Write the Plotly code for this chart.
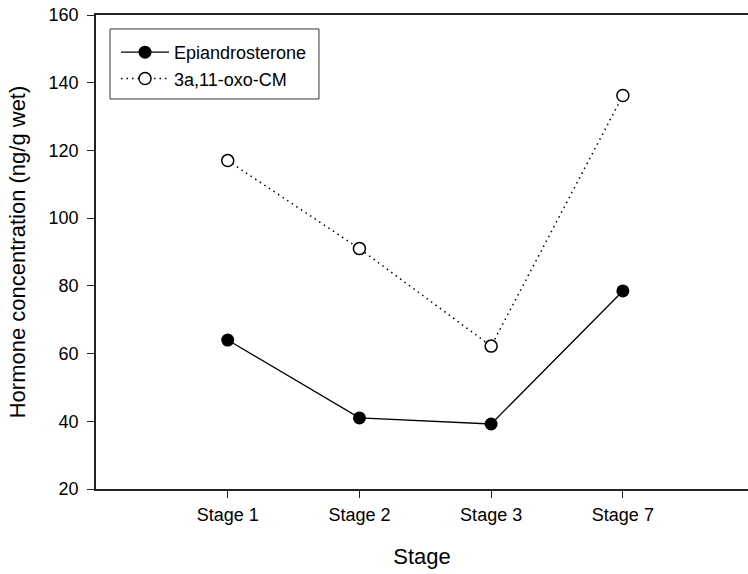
import plotly.graph_objects as go

stages = ["Stage 1", "Stage 2", "Stage 3", "Stage 7"]
stage_pos = [1, 2, 3, 4]
epiandrosterone = [64.0, 41.0, 39.2, 78.5]
oxo_cm = [117.0, 91.0, 62.2, 136.2]
y_ticks = [20, 40, 60, 80, 100, 120, 140, 160]

FONT = "Arial, 'Liberation Sans', sans-serif"

fig = go.Figure()
fig.add_trace(go.Scatter(
    x=stage_pos, y=epiandrosterone, name="Epiandrosterone", mode="lines+markers",
    line=dict(color="black", width=1.3),
    marker=dict(symbol="circle", size=13, color="black", line=dict(color="black", width=0)),
))
fig.add_trace(go.Scatter(
    x=stage_pos, y=oxo_cm, name="3a,11-oxo-CM", mode="lines+markers",
    line=dict(color="black", width=1.5, dash="1.5px,4px"),
    marker=dict(symbol="circle", size=12, color="white", line=dict(color="black", width=1.5)),
))

# legend frame (decoration)
fig.add_shape(type="rect", xref="paper", yref="paper",
              x0=0.0215, x1=0.342, y0=0.8228, y1=0.9705,
              line=dict(color="#333", width=1), fillcolor="rgba(0,0,0,0)", layer="above")

fig.update_layout(
    width=748, height=574,
    margin=dict(l=96, r=0, t=15, b=85, autoexpand=False),
    paper_bgcolor="white", plot_bgcolor="white",
    font=dict(family=FONT, size=18, color="black"),
    showlegend=True,
    legend=dict(
        x=0.0307, y=0.96, xanchor="left", yanchor="top",
        bgcolor="rgba(0,0,0,0)", borderwidth=0,
        font=dict(family=FONT, size=18, color="black"),
        tracegroupgap=0, itemwidth=48,
    ),
)
fig.update_xaxes(
    range=[0, 4.95], tickvals=stage_pos, ticktext=stages, automargin=False,
    showline=True, linecolor="#222", linewidth=1.5, mirror=True,
    ticks="outside", ticklen=7, tickcolor="#222", tickwidth=1,
    showgrid=False, zeroline=False, ticklabelstandoff=2,
    tickfont=dict(family=FONT, size=18),
    title=dict(text="Stage", font=dict(family=FONT, size=22), standoff=24),
)
fig.update_yaxes(
    range=[20, 160], tickvals=y_ticks, automargin=False,
    showline=True, linecolor="#222", linewidth=1.5, mirror=False,
    ticks="outside", ticklen=7, tickcolor="#222", tickwidth=1,
    showgrid=False, zeroline=False, ticklabelstandoff=5,
    ticklabeloverflow="allow",
    tickfont=dict(family=FONT, size=18),
    title=dict(text="Hormone concentration (ng/g wet)", font=dict(family=FONT, size=22), standoff=17),
)

fig.write_html(
    "out.html",
    config={"displayModeBar": False},
    post_script="document.body.style.margin='0';document.body.style.overflow='hidden';",
)
